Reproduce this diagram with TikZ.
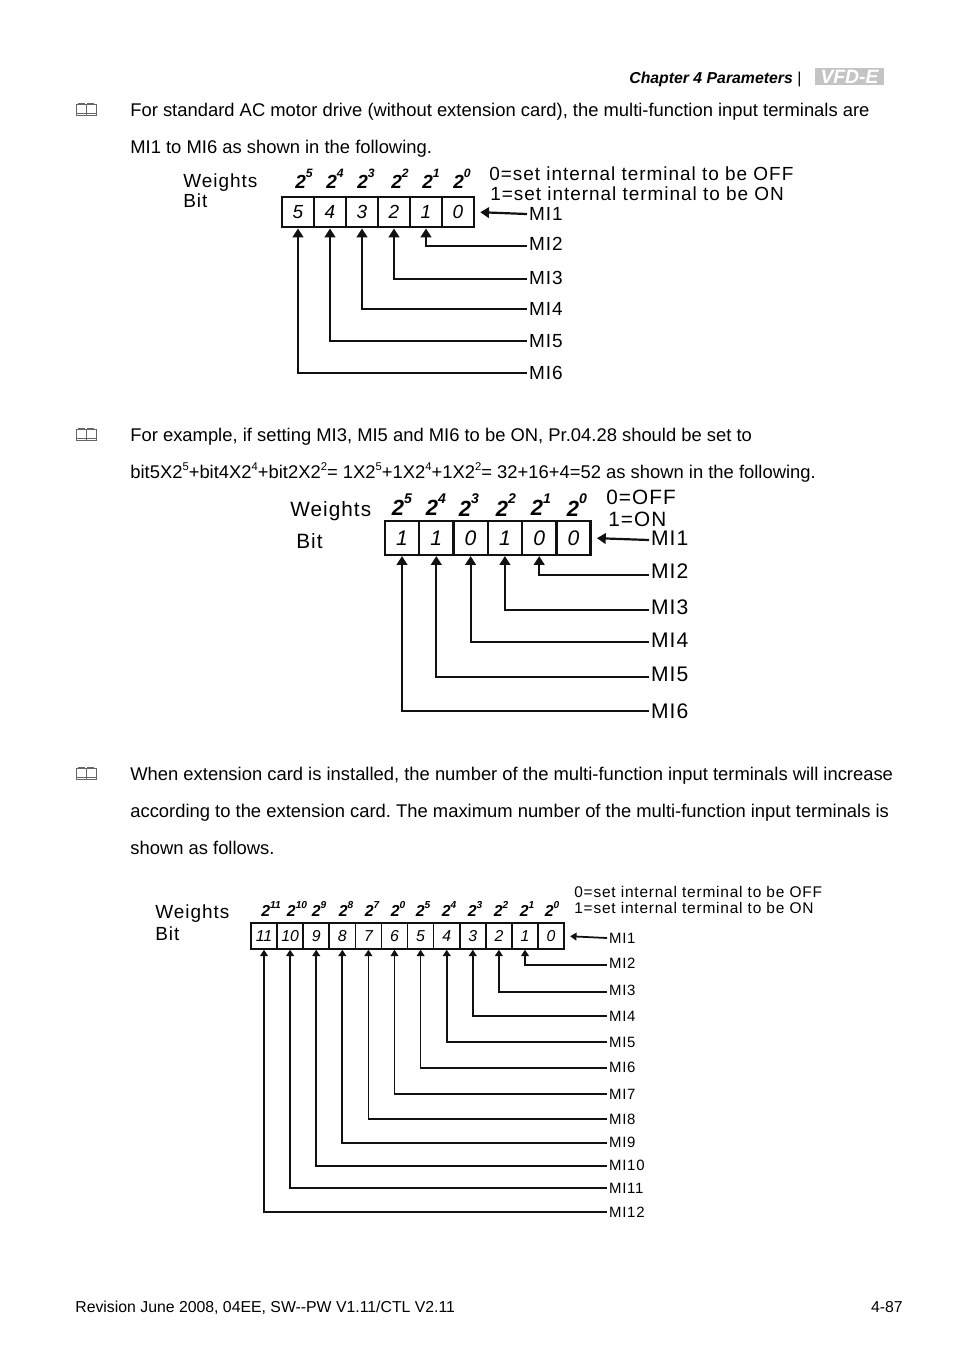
\documentclass[tikz,border=0pt]{standalone}
\usepackage{fontspec}
\setmainfont{Liberation Sans}
\newfontfamily\spaced[LetterSpace=5.1]{Liberation Sans}
\usetikzlibrary{arrows.meta, positioning}
\definecolor{LineBlack}{HTML}{111111}
\definecolor{LogoGray}{HTML}{C4C4C4}
\newcommand{\pw}[1]{{\bfseries\itshape 2\raisebox{.56em}{\scalebox{.64}{#1}}}}
\newcommand{\supn}[1]{\raisebox{.42em}{\fontsize{6.4pt}{7pt}\selectfont #1}}

\begin{document}
\begin{tikzpicture}[
  x=0.02cm, y=-0.02cm,
  body/.style={anchor=base west, inner sep=0pt, font=\fontsize{10.47pt}{12pt}\selectfont\frenchspacing},
  cell/.style={draw=LineBlack, line width=1.25pt, minimum height=17.5pt, inner sep=0pt, font=\fontsize{10.8pt}{12pt}\selectfont\itshape},
  tag/.style={anchor=west, inner sep=1pt, font=\fontsize{10.8pt}{12pt}\spaced},
  note/.style={anchor=base west, inner sep=0pt},
  power/.style={inner sep=0pt, font=\fontsize{10.8pt}{12pt}\selectfont},
  bitarrow/.style={-{Triangle[length=5pt,width=6pt]}, draw=LineBlack, line width=1.25pt},
  smallarrow/.style={-{Triangle[length=3.6pt,width=4.4pt]}, draw=LineBlack, line width=1pt},
  bookicon/.pic={
    \draw[gray!80!black, line width=0.4pt] (-10,-6) rectangle (10,5) (0,-6) -- (0,5)
      (-10,3) -- (10,3) (-8,-7) -- (-1,-7) (1,-7) -- (8,-7);
  }
]
\useasboundingbox (0,0) rectangle (954,1357);

% page text
\node[anchor=base west, inner sep=0pt, font=\fontsize{9pt}{11pt}\selectfont\bfseries\itshape] (chapter) at (629,83) {Chapter 4 Parameters};
\node[inner sep=0pt, font=\fontsize{9pt}{11pt}\selectfont, anchor=base west] (bar) at (797,83) {|};
\node[fill=LogoGray, minimum width=39pt, minimum height=9.6pt, inner sep=0pt, text=white, font=\fontsize{11pt}{9pt}\selectfont\bfseries\itshape] (logo) at (849.5,76.5) {VFD-E};

\pic at (86,110) {bookicon};
\pic at (86,435) {bookicon};
\pic at (86,774) {bookicon};

\node[body] (t1) at (130,116) {For standard AC motor drive (without extension card), the multi-function input terminals are};
\node[body] (t2) at (130,153) {MI1 to MI6 as shown in the following.};
\node[body] (t3) at (130,441) {For example, if setting MI3, MI5 and MI6 to be ON, Pr.04.28 should be set to};
\node[body] (t4) at (130,478) {bit5X2\supn{5}+bit4X2\supn{4}+bit2X2\supn{2}= 1X2\supn{5}+1X2\supn{4}+1X2\supn{2}= 32+16+4=52 as shown in the following.};
\node[body] (t5) at (130,780) {When extension card is installed, the number of the multi-function input terminals will increase};
\node[body] (t6) at (130,817) {according to the extension card. The maximum number of the multi-function input terminals is};
\node[body] (t7) at (130,854) {shown as follows.};
\node[body, font=\fontsize{9pt}{11pt}\selectfont] (rev) at (75,1312) {Revision June 2008, 04EE, SW-{}-PW V1.11/CTL V2.11};
\node[body, font=\fontsize{9pt}{11pt}\selectfont, anchor=base east] (pageno) at (903,1312) {4-87};

% first register
\node[note, font=\fontsize{10.8pt}{12pt}\spaced] (aw) at (183,187) {Weights};
\node[note, font=\fontsize{10.8pt}{12pt}\spaced] (ab) at (183,207) {Bit};
\node[note, font=\fontsize{10.8pt}{12pt}\spaced] (az) at (489,180) {0=set internal terminal to be OFF};
\node[note, font=\fontsize{10.8pt}{12pt}\spaced] (ao) at (490,200) {1=set internal terminal to be ON};
\foreach \b/\x in {5/304,4/335,3/366,2/400,1/431,0/462}
  \node[power] (ap\b) at (\x,179) {\pw{\b}};
\foreach \b in {5,...,0}
  \node[cell, minimum width=18.1pt] (a\b) at ({298+32*(5-\b)},212) {\b};
\node[tag] (ami1) at (527,214) {MI1};
\draw[bitarrow, shorten >=3pt] (ami1.west) -- (a0.east);
\foreach \n/\b/\y/\d in {2/1/246/2.3pt,3/2/279/1.1pt,4/3/309/0pt,5/4/341/0pt,6/5/373/0pt} {
  \node[tag, text depth=\d] (ami\n) at (527,\y) {MI\n};
  \draw[bitarrow] (ami\n.west) -| (a\b.south);
}

% second register
\node[note, font=\fontsize{11.8pt}{14pt}\spaced] (bw) at (290,516) {Weights};
\node[note, font=\fontsize{11.8pt}{14pt}\spaced] (bb) at (296,548) {Bit};
\node[note, font=\fontsize{11.8pt}{14pt}\spaced] (bz) at (606,504) {0=OFF};
\node[note, font=\fontsize{11.8pt}{14pt}\spaced] (bo) at (608,526) {1=ON};
\foreach \b/\x in {5/402,4/436,3/469,2/506,1/541,0/577}
  \node[power, font=\fontsize{12.5pt}{14pt}\selectfont] (bp\b) at (\x,505) {\pw{\b}};
\foreach \b/\v in {5/1,4/1,3/0,2/1,1/0,0/0}
  \node[cell, minimum width=19.45pt, minimum height=19.3pt, font=\fontsize{12pt}{14pt}\selectfont\itshape] (b\b) at ({402+34.3*(5-\b)},538) {\v};
\node[tag, font=\fontsize{12pt}{14pt}\spaced, text depth=2.3pt] (bmi1) at (649,540) {MI1};
\draw[bitarrow, shorten >=3pt] (bmi1.west) -- (b0.east);
\foreach \n/\b/\y/\d in {2/1/575/4.5pt,3/2/610/3.4pt,4/3/642/2.3pt,5/4/677/3.4pt,6/5/711/0pt} {
  \node[tag, font=\fontsize{12pt}{14pt}\spaced, text depth=\d] (bmi\n) at (649,\y) {MI\n};
  \draw[bitarrow] (bmi\n.west) -| (b\b.south);
}

% extended register
\node[note, font=\fontsize{10.8pt}{12pt}\spaced] (cw) at (155,918) {Weights};
\node[note, font=\fontsize{10.8pt}{12pt}\spaced] (cb) at (155,940) {Bit};
\node[note, font=\fontsize{8.8pt}{10pt}\spaced] (cz) at (574,897) {0=set internal terminal to be OFF};
\node[note, font=\fontsize{8.8pt}{10pt}\spaced] (co) at (574,913) {1=set internal terminal to be ON};
\foreach \b/\e/\x in {11/11/271,10/10/297,9/9/319,8/8/346,7/7/372,6/0/398,5/5/423,4/4/449,3/3/475,2/2/501,1/1/527,0/0/552}
  \node[power, font=\fontsize{9pt}{11pt}\selectfont] (cp\b) at (\x,909) {\pw{\e}};
\foreach \b in {11,...,0}
  \node[cell, line width=0.9pt, minimum width=14.8pt, minimum height=14.7pt, font=\fontsize{9pt}{11pt}\selectfont\itshape] (c\b) at ({264+26.1*(11-\b)},936) {\b};
\node[tag, font=\fontsize{8.5pt}{10pt}\spaced] (cmi1) at (607,938) {MI1};
\draw[smallarrow, shorten >=3pt] (cmi1.west) -- (c0.east);
\foreach \n/\b/\y/\d in {2/1/965/2.3pt,3/2/992/2.3pt,4/3/1016/0pt,5/4/1042/0pt,6/5/1068/1.1pt,7/6/1094/0pt,8/7/1119/0pt,9/8/1143/1.1pt,10/9/1166/1.1pt,11/10/1188/0pt,12/11/1212/0pt} {
  \node[tag, font=\fontsize{8.5pt}{10pt}\spaced, text depth=\d] (cmi\n) at (607,\y) {MI\n};
  \draw[smallarrow] (cmi\n.west) -| (c\b.south);
}

\end{tikzpicture}
\end{document}
